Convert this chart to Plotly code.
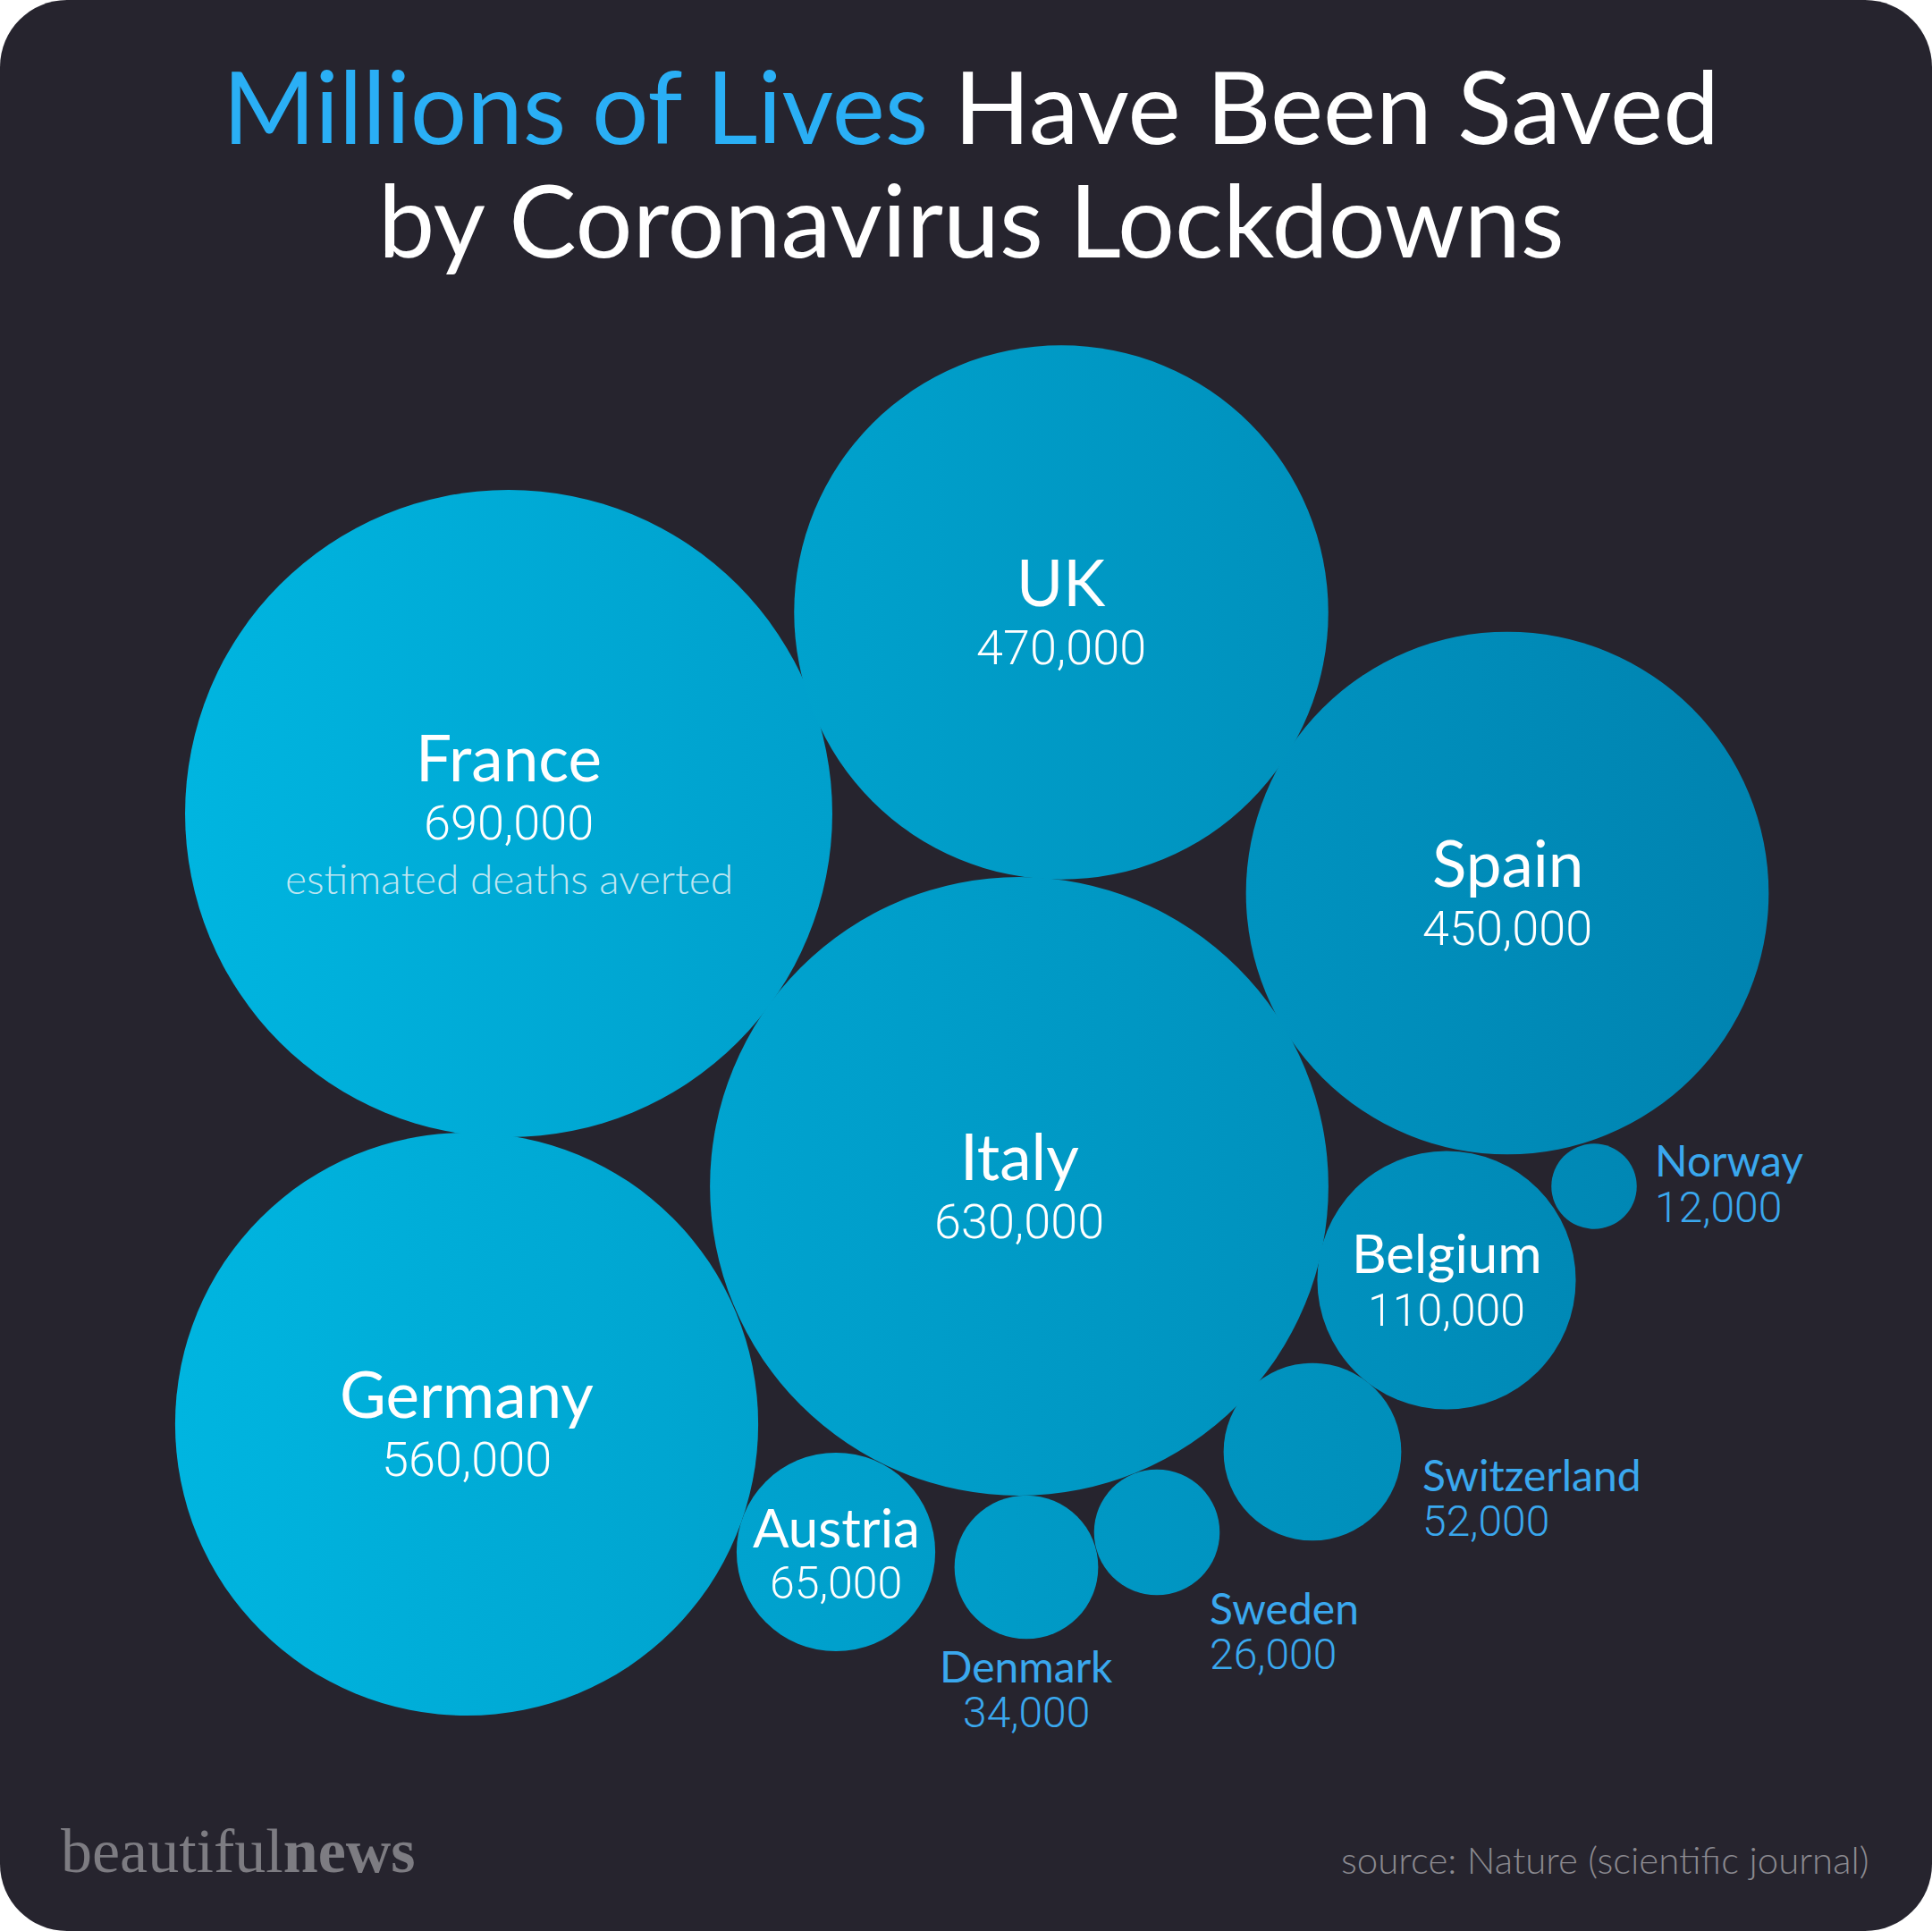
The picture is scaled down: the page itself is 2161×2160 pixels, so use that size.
"""Packed bubble chart: deaths averted by coronavirus lockdowns."""

import math
import plotly.graph_objects as go

# ---- data ---------------------------------------------------------------
countries = ["France", "UK", "Spain", "Italy", "Germany", "Belgium",
             "Norway", "Switzerland", "Sweden", "Denmark", "Austria"]
deaths_averted = [690000, 470000, 450000, 630000, 560000, 110000,
                  12000, 52000, 26000, 34000, 65000]
# bubble centres, in canvas pixels (2161 x 2160)
bubble_x = [569, 1187, 1686, 1140, 522, 1618, 1783, 1468, 1294, 1148, 935]
bubble_y = [910, 685, 999, 1327, 1593, 1432, 1327, 1624, 1714, 1753, 1736]

W, H = 2161, 2160
PX_PER_SQRT_K = 13.78          # radius in px = 13.78 * sqrt(value / 1000)

BG = "#26242e"
TITLE_BLUE = "#2aaff5"
LABEL_BLUE = "#3aa8ee"
GRAD_LEFT, GRAD_RIGHT = (0x00, 0xB5, 0xE0), (0x00, 0x83, 0xB0)
GRAD_X0, GRAD_X1 = 195, 1978

NAME_FONT = "Lato"
NUM_FONT = "Roboto"


def grad_color(x):
    t = min(max((x - GRAD_X0) / (GRAD_X1 - GRAD_X0), 0), 1)
    r, g, b = (round(a + (c - a) * t) for a, c in zip(GRAD_LEFT, GRAD_RIGHT))
    return f"rgb({r},{g},{b})"


radii = [PX_PER_SQRT_K * math.sqrt(v / 1000) for v in deaths_averted]
left_cols = [grad_color(x - r) for x, r in zip(bubble_x, radii)]
right_cols = [grad_color(x + r) for x, r in zip(bubble_x, radii)]

fig = go.Figure(go.Scatter(
    x=bubble_x,
    y=bubble_y,
    mode="markers",
    hovertext=countries,
    hoverinfo="text",
    marker=dict(
        size=[2 * r for r in radii],
        sizemode="diameter",
        sizeref=1,
        color=left_cols,
        gradient=dict(type="horizontal", color=right_cols),
        line=dict(width=0),
        opacity=1,
    ),
))

annotations = []


def add_text(x, y, text, size, color="white", family=NAME_FONT,
             xanchor="center", weight=None):
    font = dict(family=family, size=size, color=color)
    if weight:
        font["weight"] = weight
    annotations.append(dict(
        x=x, y=y, xref="x", yref="y", text=text, showarrow=False,
        xanchor=xanchor, yanchor="middle", font=font,
    ))


# labels inside the bubbles: (name offset, number offset, name size, number size)
inside = {
    "France": (-63.5, 10.5, 71, 54),
    "UK": (-34.5, 39, 71, 54),
    "Spain": (-34.5, 39, 71, 54),
    "Italy": (-34.5, 39, 71, 54),
    "Germany": (-34.5, 39, 71, 54),
    "Belgium": (-31.5, 34, 60, 50),
    "Austria": (-28.5, 34.5, 60, 50),
}
# labels outside the small bubbles: (x, name y, number y, xanchor)
outside = {
    "Norway": (1849, 1297.5, 1350, "left"),
    "Switzerland": (1589, 1649.5, 1701.5, "left"),
    "Sweden": (1351, 1798, 1850, "left"),
    "Denmark": (1148, 1863, 1915, "center"),
}

for name, val, x, y in zip(countries, deaths_averted, bubble_x, bubble_y):
    num = f"{val:,}"
    if name in inside:
        dn, dv, sn, sv = inside[name]
        add_text(x, y + dn, name, sn)
        add_text(x, y + dv, num, sv, family=NUM_FONT, weight=300)
    else:
        lx, ny, vy, anchor = outside[name]
        add_text(lx, ny, name, 48, color=LABEL_BLUE, xanchor=anchor)
        add_text(lx, vy, num, 48, color=LABEL_BLUE, family=NUM_FONT,
                 xanchor=anchor, weight=300)

add_text(569, 982.5, "estimated deaths averted", 46, color="#bfe6f2", weight=300)

# title
add_text(1086, 117.5,
         f"<span style='color:{TITLE_BLUE}'>Millions of Lives</span> Have Been Saved",
         112)
add_text(1086, 243.5, "by Coronavirus Lockdowns", 113)

# footer
add_text(66, 2070, "beautiful<b>news</b>", 70, color="#7d7c82",
         family="Liberation Serif", xanchor="left")
add_text(2093, 2080, "source: Nature (scientific journal)", 42,
         color="#8b8a90", xanchor="right", weight=300)

# rounded dark card behind everything
R, K = 75, 75 * 0.5523
card = (f"M{R},0 L{W - R},0 C{W - R + K},0 {W},{R - K} {W},{R} "
        f"L{W},{H - R} C{W},{H - R + K} {W - R + K},{H} {W - R},{H} "
        f"L{R},{H} C{R - K},{H} 0,{H - R + K} 0,{H - R} "
        f"L0,{R} C0,{R - K} {R - K},0 {R},0 Z")

fig.update_layout(
    width=W,
    height=H,
    margin=dict(l=0, r=0, t=0, b=0),
    paper_bgcolor="white",
    plot_bgcolor="rgba(0,0,0,0)",
    showlegend=False,
    xaxis=dict(range=[0, W], visible=False, fixedrange=True),
    yaxis=dict(range=[H, 0], visible=False, fixedrange=True),
    shapes=[dict(type="path", path=card, xref="x", yref="y",
                 fillcolor=BG, line=dict(width=0), layer="below")],
    annotations=annotations,
)

fig.write_html("out.html", config={"displayModeBar": False},
               post_script="document.body.style.margin='0';")
